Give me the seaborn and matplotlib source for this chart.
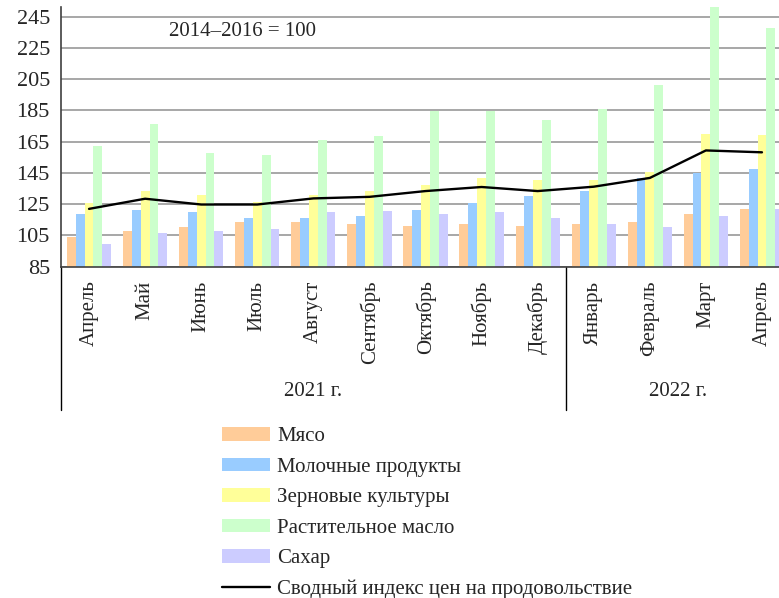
import pandas as pd
import matplotlib
matplotlib.use("Agg")
import matplotlib.pyplot as plt
import matplotlib.transforms as mtransforms
import seaborn as sns

# --- DATA (index 2014-2016 = 100) ---
MONTHS = ["Апрель", "Май", "Июнь", "Июль", "Август", "Сентябрь", "Октябрь",
          "Ноябрь", "Декабрь", "Январь", "Февраль", "Март", "Апрель"]
YEARS = ["2021 г.", "2022 г."]
YEAR_SPANS = [(0, 9), (9, 13)]  # month index ranges per year

SERIES = ["Мясо", "Молочные продукты", "Зерновые культуры",
          "Растительное масло", "Сахар"]
meat = [104, 108, 110.5, 113.8, 113.8, 112.5, 111.2, 112.5, 111.2, 112.5, 113.8, 118.8, 122]
dairy = [119, 121, 120.3, 116.4, 116.4, 117.7, 121, 126, 130, 133.2, 141.6, 145.1, 147.7]
cereals = [126, 133.4, 130.6, 126.1, 130.6, 133.2, 137, 141.6, 140.3, 140.3, 145.4, 170.1, 169]
oils = [162.2, 176, 157.9, 156.4, 166.1, 168.7, 184.6, 184.6, 179, 185.9, 201.3, 251.2, 237.5]
sugar = [99.6, 106.7, 108, 109.3, 120.3, 120.9, 119, 120.3, 116.4, 112.5, 110.6, 117.5, 122]

INDEX_LABEL = "Сводный индекс цен на продовольствие"
ffpi = [122, 128.5, 124.8, 124.8, 128.7, 129.7, 133.4, 136, 133.4, 136.2, 141.8, 159.4, 158.2]

COLORS = ["#FFCC99", "#99CCFF", "#FFFF99", "#CCFFCC", "#CCCCFF"]
Y_TICKS = list(range(85, 246, 20))


def main():
    sns.set_style("white")
    plt.rcParams["font.family"] = ["Liberation Serif", "DejaVu Serif"]
    plt.rcParams["font.size"] = 15

    # long-form table for seaborn
    rows = []
    for name, vals in zip(SERIES, [meat, dairy, cereals, oils, sugar]):
        for i, v in enumerate(vals):
            rows.append({"idx": i, "series": name, "value": v})
    df = pd.DataFrame(rows)

    fig = plt.figure(figsize=(7.79, 5.98), dpi=100)
    ax = fig.add_axes([61 / 779, 1 - 266.7 / 598, 729 / 779, 259.4 / 598])

    sns.barplot(data=df, x="idx", y="value", hue="series", hue_order=SERIES,
                palette=COLORS, saturation=1, width=0.79, ax=ax, linewidth=0)
    sns.lineplot(x=list(range(len(MONTHS))), y=ffpi, ax=ax, color="black",
                 lw=1.7, label=INDEX_LABEL)

    handles, labels = ax.get_legend_handles_labels()
    if ax.get_legend() is not None:
        ax.get_legend().remove()

    # --- axes styling ---
    ax.set_xlim(-0.5, len(MONTHS) - 0.5)
    ax.set_ylim(85, 251)
    ax.set_yticks(Y_TICKS)
    ax.yaxis.grid(True, color="#a0a0a0", lw=1.3)
    ax.set_axisbelow(True)
    ax.set_xlabel("")
    ax.set_ylabel("")
    for s in ["top", "right"]:
        ax.spines[s].set_visible(False)
    for s in ["left", "bottom"]:
        ax.spines[s].set_color("#404040")
        ax.spines[s].set_linewidth(1.2)

    ax.tick_params(axis="y", which="major", length=6, width=1.2, pad=2,
                   color="#404040", labelsize=16)

    # month boundaries as long major ticks, month names as minor tick labels
    ax.set_xticks([i - 0.5 for i in range(len(MONTHS) + 1)])
    ax.set_xticklabels([])
    ax.set_xticks(list(range(len(MONTHS))), minor=True)
    ax.set_xticklabels(MONTHS, minor=True, rotation=90, fontsize=15)
    ax.tick_params(axis="x", which="major", length=73, width=1.0, color="black")
    ax.tick_params(axis="x", which="minor", length=0, pad=10)

    # year separators and labels
    trans = mtransforms.blended_transform_factory(ax.transData, ax.transAxes)
    for (start, end), year in zip(YEAR_SPANS, YEARS):
        ax.plot([start - 0.5, start - 0.5], [0, -0.551], transform=trans,
                color="black", lw=1.0, clip_on=False)
        ax.annotate(year, xy=((start + end - 1) / 2, 0),
                    xycoords=("data", "axes fraction"),
                    xytext=(0, -90), textcoords="offset points",
                    ha="center", va="center", fontsize=15)

    ax.text(2.73, 235.5, "2014–2016 = 100", ha="center", va="center", fontsize=15)

    fig.legend(handles, labels, loc="upper left",
               bbox_to_anchor=(222 / 779, 1 - 427 / 598),
               frameon=False, borderpad=0, borderaxespad=0,
               handlelength=2.3, handleheight=0.62, handletextpad=0.35,
               labelspacing=0.55, fontsize=15)

    fig.savefig("out.png", dpi=100)


if __name__ == "__main__":
    main()
